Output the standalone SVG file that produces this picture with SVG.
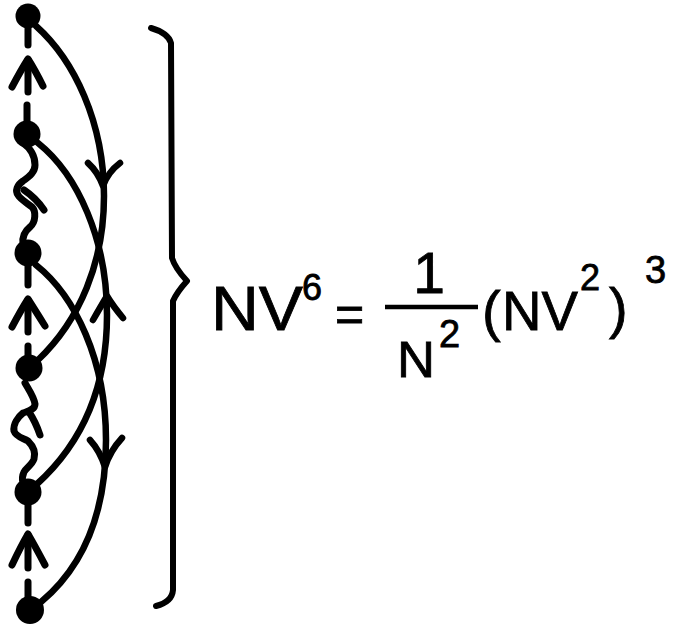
<svg xmlns="http://www.w3.org/2000/svg" width="684" height="626" viewBox="0 0 684 626">
<style>
.ln{fill:none;stroke:#000;stroke-width:7;stroke-linecap:round;stroke-linejoin:round}
.arc{fill:none;stroke:#000;stroke-width:6.5;stroke-linecap:round;stroke-linejoin:round}
.br{fill:none;stroke:#000;stroke-width:6;stroke-linecap:round;stroke-linejoin:round}
.dot{fill:#000}
.t{font-family:"Liberation Sans",Arial,sans-serif;fill:#000;stroke:#000;stroke-width:0.8}
</style>
<rect width="684" height="626" fill="#fff"/>
<g id="connectors">
  <g id="dash12">
    <path class="ln" d="M28,28 L28,45"/>
    <path class="ln" d="M12,87 Q21,70 28,59 Q35,70 43,86"/>
    <path class="ln" d="M28,60 L28,92"/>
    <path class="ln" d="M27,105 L27,122"/>
  </g>
  <g id="dash34">
    <path class="ln" d="M28,266 L28,285"/>
    <path class="ln" d="M12,327 Q21,310 28,299 Q35,310 45,326"/>
    <path class="ln" d="M28,300 L28,332"/>
    <path class="ln" d="M28,346 L28,356"/>
  </g>
  <g id="dash56">
    <path class="ln" d="M28,505 L28,523"/>
    <path class="ln" d="M12,565 Q21,546 28,534 Q35,546 45,565"/>
    <path class="ln" d="M28,535 L28,568"/>
    <path class="ln" d="M28,582 L28,598"/>
  </g>
  <path id="wave23" class="ln" d="M23,143 C30,148 35,156 35,165 C35,172 30,176 23,181 C17,185 15,191 18,195 C20,199 27,203 32,207 C36,211 36,222 30,227 C25,231 22,236 23,244"/>
  <path class="ln" d="M24,190 C30,194 38,201 44,210"/>
  <path id="wave45" class="ln" d="M25,383 C29,390 34,397 35,404 C35,410 28,411 23,413 C18,417 13,424 14,431 C16,437 23,438 28,441 C33,446 36,452 34,459 C32,465 26,468 24,472 C22,476 22,479 23,483"/>
  <path class="ln" d="M29,412 C33,418 37,426 40,435"/>
  <path id="arc14" class="arc" d="M36,26 C74,60 104,122 104,196 C104,262 80,320 38,360"/>
  <path class="arc" d="M88,163 Q98,172 103,186 Q108,172 120,163"/>
  <path id="arc25" class="arc" d="M38,143 C78,175 107,240 107,315 C107,390 80,445 37,484"/>
  <path class="arc" d="M93,320 Q101,306 107,296 Q113,306 123,318"/>
  <path id="arc36" class="arc" d="M36,265 C75,296 106,360 106,440 C106,512 84,566 41,602"/>
  <path class="arc" d="M90,440 Q100,451 105,467 Q110,451 122,438"/>
</g>
<g id="v1"><circle class="dot" cx="28" cy="16" r="12.5"/></g>
<g id="v2"><circle class="dot" cx="27" cy="134" r="13.5"/></g>
<g id="v3"><circle class="dot" cx="28" cy="253" r="13.5"/></g>
<g id="v4"><circle class="dot" cx="29" cy="368" r="13.5"/></g>
<g id="v5"><circle class="dot" cx="28" cy="492" r="13.5"/></g>
<g id="v6"><circle class="dot" cx="30" cy="610" r="14"/></g>
<g id="brace">
  <path class="br" d="M151,28 Q168,33 171,43 L172,258 Q175,268 187,281 Q177,292 173,301 L173,590 Q172,602 156,606"/>
</g>
<g id="equation">
  <text class="t" x="211" y="330" font-size="63" textLength="92" lengthAdjust="spacingAndGlyphs">NV</text>
  <text class="t" x="302" y="300" font-size="36">6</text>
  <text class="t" x="335" y="331" font-size="50">=</text>
  <text class="t" x="429" y="293" font-size="57" text-anchor="middle">1</text>
  <line x1="385" y1="307" x2="478" y2="307" stroke="#000" stroke-width="4.5"/>
  <text class="t" x="397" y="377" font-size="50" textLength="38" lengthAdjust="spacingAndGlyphs">N</text>
  <text class="t" x="439" y="347" font-size="38">2</text>
  <text class="t" x="482" y="330" font-size="56">(</text>
  <text class="t" x="502" y="330" font-size="56" textLength="76" lengthAdjust="spacingAndGlyphs">NV</text>
  <text class="t" x="580" y="290" font-size="36">2</text>
  <text class="t" x="609" y="327" font-size="56">)</text>
  <text class="t" x="645" y="283" font-size="38">3</text>
</g>
</svg>
